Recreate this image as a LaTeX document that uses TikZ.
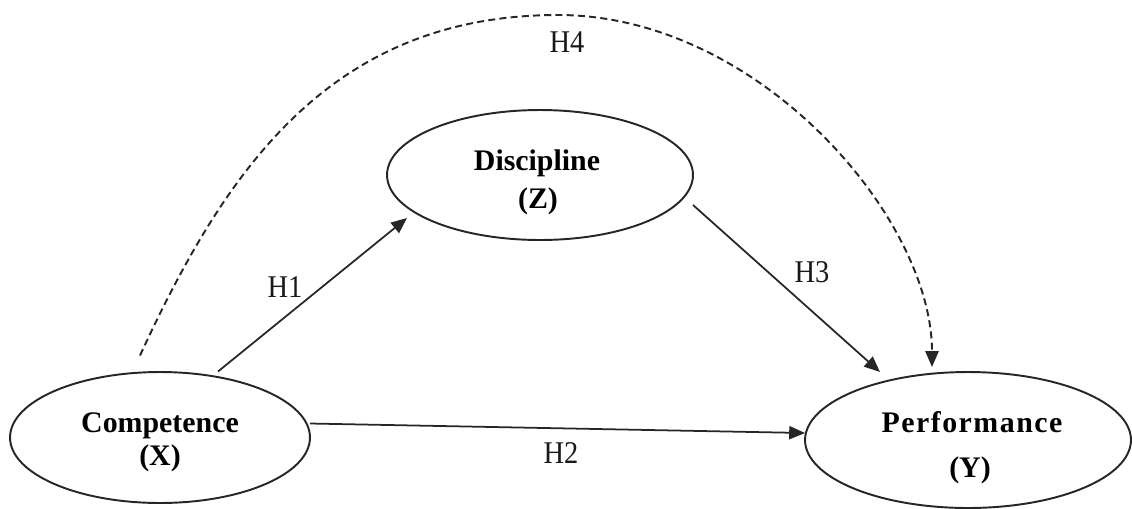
\documentclass[tikz,border=0pt]{standalone}
\usepackage{fontspec}
\setmainfont{Liberation Serif}
\newfontfamily\hfont{Liberation Serif}[FakeStretch=0.9]
\usetikzlibrary{arrows.meta,shapes.geometric}
\tikzset{
  latent/.style={draw=black!85, line width=1.1pt, ellipse, inner sep=0pt},
  vname/.style={anchor=base, inner sep=0pt, font=\fontsize{17}{20}\selectfont\bfseries, text=black},
  hlab/.style={anchor=base, inner sep=0pt, font=\hfont\fontsize{18}{21}\selectfont, text=black!90},
  path/.style={draw=black!85, line width=1pt, -{Triangle[length=9pt,width=7.5pt]}},
  indirect/.style={path, line width=1.1pt, dash pattern=on 4pt off 2.4pt}
}
\begin{document}
\begin{tikzpicture}[x=0.02cm, y=-0.02cm]
\useasboundingbox (0,0) rectangle (1132,508);
% latent variables
\node[latent, minimum width=6cm, minimum height=2.62cm] (comp) at (160,437.5) {};
\node[latent, minimum width=6.12cm, minimum height=2.6cm] (disc) at (540,175) {};
\node[latent, minimum width=6.52cm, minimum height=2.72cm] (perf) at (968,440) {};
% names
\node[vname] (compA) at (160,432) {Competence};
\node[vname] (compB) at (160,465) {(X)};
\node[vname] (discA) at (537,170) {Discipline};
\node[vname] (discB) at (538,208) {(Z)};
\node[vname] (perfA) at (972,432) {\addfontfeatures{LetterSpace=5}Performance};
\node[vname] (perfB) at (970,477) {(Y)};
% paths
\draw[path] ([shift={(58,-66)}]comp.center) -- ([shift={(-133,43)}]disc.center);
\draw[path] ([shift={(150,-14)}]comp.center) -- ([shift={(-163,-7)}]perf.center);
\draw[path] ([shift={(153,30)}]disc.center) -- ([shift={(-88,-68)}]perf.center);
\coordinate (h4top) at (558,15);
\draw[indirect] ([shift={(-20,-82)}]comp.center) .. controls +(84,-182) and +(-230,0) .. (h4top)
  .. controls +(200,0) and +(0,-150) .. ([shift={(-36,-73)}]perf.center);
% hypothesis labels
\node[hlab] (h1) at (285,297) {H1};
\node[hlab] (h2) at (561,463) {H2};
\node[hlab] (h3) at (812,282) {H3};
\node[hlab] (h4) at (567,52) {H4};
\end{tikzpicture}
\end{document}
